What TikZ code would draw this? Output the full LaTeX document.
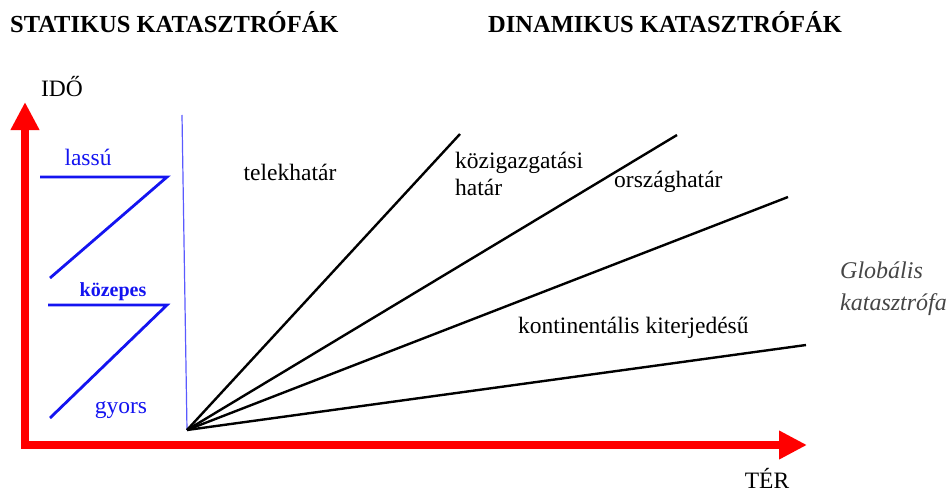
\documentclass[tikz,border=0pt]{standalone}
\usepackage{fontspec}
\setmainfont{Liberation Serif}
\usetikzlibrary{arrows.meta}
\definecolor{axisred}{RGB}{255,0,0}
\definecolor{zblue}{RGB}{20,20,240}
\definecolor{lblue}{RGB}{90,90,255}
\definecolor{globgray}{RGB}{70,70,70}
\tikzset{
  lbl/.style={inner sep=0pt, font=\fontsize{23.5}{27}\selectfont},
  title/.style={inner sep=0pt, anchor=west, font=\fontsize{24.5}{28}\selectfont\bfseries},
  bluelbl/.style={lbl, text=zblue},
  zigzag/.style={draw=zblue, line width=2.8pt, line join=miter},
  ray/.style={draw=black, line width=2.4pt},
  axis/.style={draw=axisred, line width=8pt, arrows={Triangle[width=27pt,length=28pt]-Triangle[width=27pt,length=28pt]}},
}
\begin{document}
\begin{tikzpicture}[x=1pt,y=-1pt]
\useasboundingbox (0,0) rectangle (952,492);
% titles
\node[title] (st) at (10,22) {STATIKUS KATASZTRÓFÁK};
\node[title] (dt) at (488,22) {DINAMIKUS KATASZTRÓFÁK};
% axes
\coordinate (ytip) at (25,102);
\coordinate (corner) at (25,445);
\coordinate (xtip) at (807,445);
\path[axis] (ytip) -- (corner) -- (xtip);
\node[lbl] (ido) at (62,87) {IDŐ};
\node[lbl] (ter) at (767,478) {TÉR};
% static zigzag
\coordinate (a1) at (40,177);
\coordinate (a2) at (167,177);
\coordinate (a3) at (50,278);
\coordinate (b1) at (48,305);
\coordinate (b2) at (167,305);
\coordinate (b3) at (50,418);
\draw[zigzag] (a1) -- (a2) -- (a3);
\draw[zigzag] (b1) -- (b2) -- (b3);
\node[bluelbl] (lassu) at (88,157) {lassú};
\node[inner sep=0pt, text=zblue, font=\fontsize{20}{24}\selectfont\bfseries] (kozepes) at (113,292) {közepes};
\node[bluelbl] (gyors) at (121,410) {gyors};
% divider
\coordinate (dtop) at (182,115);
\coordinate (O) at (187,430);
\draw[draw=lblue, line width=1.2pt] (dtop) -- (O);
% rays
\coordinate (r1) at (460,134);
\coordinate (r2) at (677,135);
\coordinate (r3) at (788,197);
\coordinate (r4) at (806,345);
\draw[ray] (O) -- (r1);
\draw[ray] (O) -- (r2);
\draw[ray] (O) -- (r3);
\draw[ray] (O) -- (r4);
% labels
\node[lbl] (telek) at (290,172) {telekhatár};
\node[lbl, anchor=west, align=left] (kozig) at (455,174) {közigazgatási\\határ};
\node[lbl, anchor=west] (orszag) at (614,182) {országhatár};
\node[lbl, anchor=west] (kont) at (518,328) {kontinentális kiterjedésű};
\node[inner sep=0pt, anchor=west, align=left, text=globgray, font=\fontsize{24}{32}\selectfont\itshape] (glob) at (840,289) {Globális\\katasztrófa};
\end{tikzpicture}
\end{document}
